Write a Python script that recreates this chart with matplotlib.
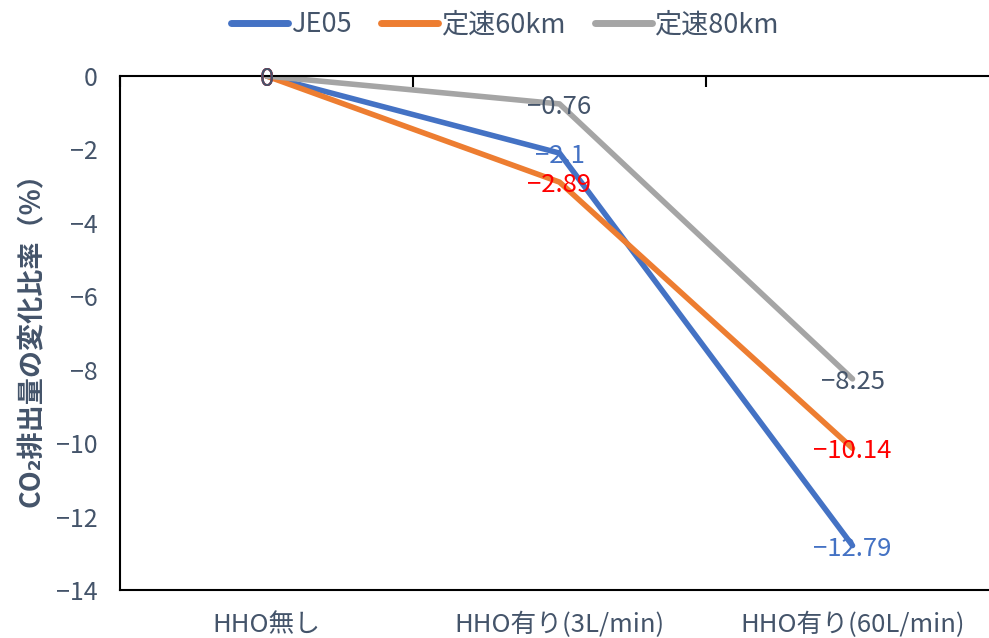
import matplotlib
matplotlib.use("Agg")
import matplotlib.pyplot as plt

plt.rcParams['font.family'] = ['Noto Sans CJK JP', 'DejaVu Sans']
plt.rcParams['axes.unicode_minus'] = True

categories = ['HHO無し', 'HHO有り(3L/min)', 'HHO有り(60L/min)']
series_names = ['JE05', '定速60km', '定速80km']
je05 = [0, -2.1, -12.79]
teisoku60 = [0, -2.89, -10.14]
teisoku80 = [0, -0.76, -8.25]

line_colors = ['#4472C4', '#ED7D31', '#A5A5A5']
label_colors = ['#4472C4', '#FF0000', '#44546A']
text_color = '#44546A'


def fmt(v):
    s = f"{v:g}"
    return s.replace('-', '\u2212')


fig = plt.figure(figsize=(9.89, 6.38), dpi=100)
ax = fig.add_axes([120 / 989, 1 - 590 / 638, 879 / 989, (590 - 76) / 638])

xs = [i + 0.5 for i in range(len(categories))]
for name, vals, lc in zip(series_names, [je05, teisoku60, teisoku80], line_colors):
    ax.plot(xs, vals, color=lc, linewidth=4.0, label=name,
            solid_capstyle='round', solid_joinstyle='round')
for vals, tc in zip([je05, teisoku60, teisoku80], label_colors):
    for x, v in zip(xs, vals):
        ax.text(x, v, fmt(v), color=tc, fontsize=18.5,
                ha='center', va='center_baseline')

ax.set_xlim(0, len(categories))
ax.set_ylim(-14, 0)
ax.set_yticks(range(-14, 1, 2))
ax.set_yticklabels([fmt(v) for v in range(-14, 1, 2)])

# category boundary ticks on the zero line (top), labels at the bottom
ax.set_xticks(range(len(categories) + 1))
ax.set_xticks(xs, labels=categories, minor=True)
ax.tick_params(axis='x', which='major', bottom=False, top=True,
               labelbottom=False, labeltop=False, direction='in',
               length=8, width=1.5, color='black')
ax.tick_params(axis='x', which='minor', bottom=False, top=False,
               labelbottom=True, length=0, pad=16, labelsize=18.5,
               labelcolor=text_color)
ax.tick_params(axis='y', length=0, pad=16, labelsize=18,
               labelcolor=text_color)

for side in ['left', 'bottom', 'top']:
    ax.spines[side].set_linewidth(1.5)
    ax.spines[side].set_color('black')
ax.spines['right'].set_visible(False)

ax.set_ylabel('CO\u2082排出量の変化比率\uff08%\uff09', fontsize=19.5,
              fontweight='bold', color=text_color)
ax.yaxis.set_label_coords(-88 / 879, 0.5)
ax.yaxis.label.set_va('center')

leg = fig.legend(loc='center', bbox_to_anchor=(505 / 989, 1 - 25 / 638),
                 ncol=3, frameon=False, fontsize=19.5, handlelength=2.1,
                 handletextpad=0.1, columnspacing=1.1)
for t in leg.get_texts():
    t.set_color(text_color)
for h in leg.get_lines():
    h.set_linewidth(5)

fig.savefig('out.png', dpi=100)
